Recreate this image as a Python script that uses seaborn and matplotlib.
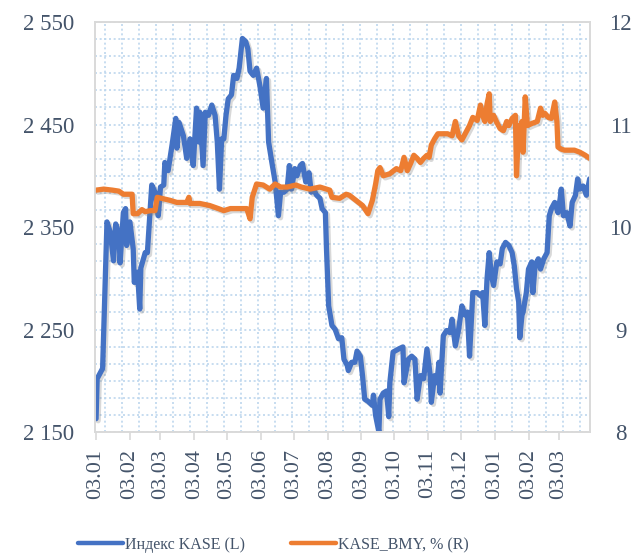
import pandas as pd
import matplotlib
matplotlib.use("Agg")
import matplotlib.pyplot as plt
import matplotlib.dates as mdates
import matplotlib.patheffects as pe
from matplotlib.lines import Line2D
from matplotlib.ticker import MultipleLocator, FixedLocator, FuncFormatter
import seaborn as sns

# days counted from 03.01.2022
start_date = "2022-01-03"

kase_days = [0, 1, 6, 10, 13, 16, 18, 21, 22, 25, 27, 28, 31, 34, 35, 38, 40, 41, 45, 47,
             51, 54, 57, 59, 62, 63, 66, 70, 73, 74, 76, 80, 83, 86, 89, 92, 94, 95, 98, 100,
             103, 106, 109, 111, 113, 115, 117, 119, 121, 124, 126, 129, 131, 134, 137, 139, 141, 144, 147, 150,
             153, 156, 158, 161, 164, 167, 169, 172, 175, 177, 179, 182, 184, 187, 189, 192, 195, 197, 199, 202,
             205, 207, 210, 211, 213, 216, 219, 222, 225, 227, 230, 231, 234, 237, 239, 242, 244, 246, 249, 253,
             254, 256, 259, 260, 263, 266, 268, 269, 272, 277, 281, 282, 286, 289, 292, 294, 297, 300, 301, 303,
             306, 307, 310, 312, 314, 315, 318, 321, 324, 326, 329, 332, 335, 338, 340, 342, 345, 349, 352, 354,
             356, 358, 360, 362, 364, 367, 370, 372, 375, 378, 381, 383, 385, 387, 388, 390, 391, 394, 396, 399,
             400, 402, 405, 407, 410, 413, 415, 417, 420, 423, 425, 426, 428, 431, 434, 436, 439, 441, 443, 446,
             449, 452]
kase_values = [2163, 2202, 2212, 2355, 2345, 2317, 2353, 2342, 2315, 2364, 2368, 2332, 2355, 2329, 2296, 2306, 2270, 2310, 2325, 2325,
               2391, 2384, 2361, 2389, 2391, 2413, 2405, 2433, 2456, 2427, 2452, 2439, 2417, 2436, 2410, 2466, 2433, 2462, 2410, 2462,
               2459, 2469, 2459, 2433, 2387, 2436, 2436, 2459, 2475, 2479, 2498, 2495, 2505, 2534, 2531, 2524, 2502, 2498, 2505, 2488,
               2466, 2495, 2433, 2413, 2394, 2361, 2384, 2384, 2387, 2410, 2387, 2407, 2400, 2410, 2412, 2394, 2403, 2384, 2387, 2381,
               2378, 2368, 2364, 2329, 2273, 2254, 2250, 2241, 2242, 2221, 2215, 2210, 2218, 2218, 2229, 2224, 2205, 2182, 2180, 2176,
               2186, 2166, 2150, 2182, 2188, 2190, 2165, 2198, 2228, 2231, 2233, 2198, 2221, 2224, 2221, 2182, 2205, 2202, 2212, 2231,
               2205, 2179, 2205, 2198, 2218, 2188, 2244, 2249, 2247, 2260, 2234, 2250, 2273, 2264, 2267, 2224, 2286, 2286, 2283, 2286,
               2254, 2299, 2325, 2303, 2293, 2316, 2314, 2329, 2335, 2332, 2325, 2312, 2290, 2277, 2242, 2264, 2267, 2286, 2309, 2316,
               2286, 2312, 2319, 2309, 2319, 2325, 2361, 2368, 2374, 2364, 2378, 2387, 2361, 2364, 2351, 2374, 2381, 2397, 2387, 2390,
               2381, 2397]

bmy_days = [0, 7, 15, 21, 25, 33, 34, 38, 42, 45, 50, 54, 56, 60, 68, 74, 83, 85, 86, 95,
            104, 112, 117, 123, 132, 138, 141, 143, 147, 153, 159, 164, 169, 175, 183, 188, 196, 205, 214, 216,
            223, 229, 232, 238, 244, 249, 253, 256, 258, 260, 263, 269, 275, 279, 282, 285, 288, 291, 294, 297,
            300, 303, 305, 307, 310, 313, 317, 322, 326, 329, 332, 335, 338, 342, 345, 349, 352, 354, 356, 358,
            360, 361, 364, 367, 370, 373, 376, 378, 381, 384, 385, 387, 388, 390, 391, 393, 395, 399, 404, 407,
            409, 411, 414, 417, 420, 422, 423, 426, 429, 434, 438, 443, 448, 452]
bmy_values = [10.36, 10.37, 10.36, 10.35, 10.32, 10.32, 10.13, 10.13, 10.17, 10.15, 10.16, 10.16, 10.29, 10.28, 10.26, 10.24, 10.24, 10.29, 10.23, 10.23,
              10.21, 10.18, 10.16, 10.18, 10.18, 10.18, 10.08, 10.29, 10.42, 10.41, 10.37, 10.42, 10.39, 10.39, 10.41, 10.39, 10.37, 10.39, 10.36, 10.29,
              10.28, 10.32, 10.31, 10.26, 10.21, 10.13, 10.26, 10.42, 10.55, 10.58, 10.50, 10.52, 10.57, 10.55, 10.68, 10.55, 10.62, 10.70, 10.67, 10.63,
              10.67, 10.70, 10.68, 10.80, 10.86, 10.91, 10.91, 10.91, 10.89, 11.03, 10.89, 10.85, 10.91, 10.99, 11.07, 11.04, 11.19, 11.09, 11.03, 11.20,
              11.30, 11.03, 11.09, 11.02, 10.96, 10.94, 11.03, 10.99, 11.06, 11.09, 10.50, 10.99, 10.93, 11.03, 10.73, 11.27, 10.99, 11.01, 11.03, 11.16,
              11.09, 11.11, 11.07, 11.06, 11.22, 11.03, 10.78, 10.76, 10.75, 10.75, 10.75, 10.73, 10.70, 10.67]

left_ticks = [2150, 2250, 2350, 2450, 2550]
right_ticks = [8, 9, 10, 11, 12]
legend_labels = ["Индекс KASE (L)", "KASE_BMY, % (R)"]

blue = "#4472C4"
orange = "#ED7D31"
text_color = "#44546A"
grid_color = "#BDD7EE"
frame_color = "#D9D9D9"
lw = 3.8

sns.set_theme(style="white")
plt.rcParams["font.family"] = ["Liberation Serif", "DejaVu Serif"]

base = pd.Timestamp(start_date)
kase = pd.DataFrame({"date": base + pd.to_timedelta(kase_days, unit="D"), "value": kase_values})
bmy = pd.DataFrame({"date": base + pd.to_timedelta(bmy_days, unit="D"), "value": bmy_values})

fig = plt.figure(figsize=(6.36, 5.57), dpi=100)
ax = fig.add_axes([0.150, 0.2244, 0.778, 0.736])
ax2 = ax.twinx()

sns.lineplot(data=kase, x="date", y="value", ax=ax, color=blue, linewidth=lw, legend=False)
sns.lineplot(data=bmy, x="date", y="value", ax=ax2, color=orange, linewidth=lw, legend=False)

shadow = [pe.SimpleLineShadow(offset=(1.5, -1.5), shadow_color="gray", alpha=0.3), pe.Normal()]
for line in ax.lines + ax2.lines:
    line.set_path_effects(shadow)
    line.set_solid_joinstyle("round")

# axes ranges
ax.set_xlim(base - pd.Timedelta(days=0.6), base + pd.Timedelta(days=452.5))
ax.set_ylim(2150, 2550)
ax2.set_ylim(8, 12)

ax.set_yticks(left_ticks)
ax2.set_yticks(right_ticks)
ax.yaxis.set_major_formatter(FuncFormatter(lambda v, p: f"{v:,.0f}".replace(",", " ")))
ax.yaxis.set_minor_locator(MultipleLocator(100 / 6))

ax.xaxis.set_major_locator(mdates.MonthLocator(bymonthday=3))
ax.xaxis.set_major_formatter(mdates.DateFormatter("%d.%m"))
x0 = mdates.date2num(base)
ax.xaxis.set_minor_locator(FixedLocator([x0 + 8.5 + 15.52 * k for k in range(29)]))

for a in (ax, ax2):
    a.set_xlabel("")
    a.set_ylabel("")
    for s in a.spines.values():
        s.set_visible(True)
        s.set_color(frame_color)
        s.set_linewidth(1.2)

ax.grid(which="both", axis="y", color=grid_color, linestyle=(0, (1.2, 1.6)), linewidth=1.2)
ax.grid(which="minor", axis="x", color=grid_color, linestyle=(0, (1.2, 1.6)), linewidth=1.2)
ax.grid(which="major", axis="x", visible=False)
ax.set_axisbelow(True)

ax.tick_params(axis="x", which="major", bottom=True, length=6, width=1.2, color=frame_color,
               labelsize=16, labelcolor=text_color, pad=6, labelrotation=90)
ax.tick_params(axis="x", which="minor", length=0)
ax.tick_params(axis="y", which="both", length=0, labelsize=16.5, labelcolor=text_color, pad=15)
ax2.tick_params(axis="y", length=0, labelsize=16.5, labelcolor=text_color, pad=22)
for lab in ax2.get_yticklabels():
    lab.set_ha("center")

handles = [Line2D([], [], color=blue, linewidth=3.2), Line2D([], [], color=orange, linewidth=3.2)]
fig.legend(handles, legend_labels, loc="center", bbox_to_anchor=(0.43, 1 - 545 / 557), ncol=2,
           frameon=False, fontsize=11.5, labelcolor=text_color, handlelength=2.8,
           handletextpad=0.15, columnspacing=2.9)

fig.savefig("out.png", dpi=100)
